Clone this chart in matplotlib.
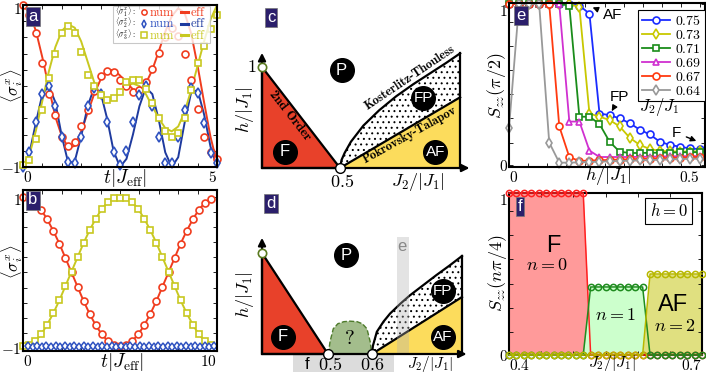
import numpy as np
import matplotlib
matplotlib.use('Agg')
import matplotlib.pyplot as plt
from matplotlib.patches import Rectangle
from matplotlib.transforms import ScaledTranslation

plt.rcParams['mathtext.fontset'] = 'cm'
plt.rcParams['font.family'] = ['DejaVu Sans']
plt.rcParams['hatch.linewidth'] = 0.7

W, H = 706, 374

# ---------------- data ----------------
# panel a: spin dynamics, numerics (markers) and effective model (lines)
t_a = np.arange(31) / 6
s1_num_a = [1.0, 0.88, 0.65, 0.29, -0.10, -0.36, -0.63, -0.74, -0.69, -0.49, -0.30,
            -0.06, 0.12, 0.19, 0.17, 0.08, 0.0, -0.08, -0.05, 0.05, 0.21, 0.41, 0.60,
            0.72, 0.62, 0.40, 0.08, -0.28, -0.63, -0.81, -0.90]
s2_num_a = [-1.0, -0.82, -0.44, -0.10, 0.0, -0.25, -0.63, -0.94, -0.95, -0.63, -0.25,
            -0.02, -0.10, -0.44, -0.81, -0.98, -0.80, -0.44, -0.11, 0.0, -0.25, -0.63,
            -0.95, -0.95, -0.63, -0.30, -0.02, -0.09, -0.46, -0.83, -0.95]
s3_num_a = [-0.98, -0.91, -0.65, -0.30, 0.10, 0.40, 0.66, 0.74, 0.66, 0.42, 0.14,
            0.0, -0.11, -0.17, -0.15, -0.07, 0.05, 0.08, 0.07, -0.04, -0.21, -0.40,
            -0.56, -0.63, -0.58, -0.40, -0.05, 0.29, 0.50, 0.70, 0.88]
s1_eff_a = [1.0, 0.90, 0.68, 0.35, -0.02, -0.38, -0.62, -0.76, -0.74, -0.56, -0.33,
            -0.10, 0.08, 0.19, 0.20, 0.13, 0.04, -0.04, -0.06, 0.03, 0.20, 0.43, 0.67,
            0.86, 0.96, 0.90, 0.65, 0.25, -0.20, -0.63, -0.95]
s2_eff_a = [-1.0, -0.83, -0.45, -0.10, 0.0, -0.20, -0.62, -0.95, -0.93, -0.62, -0.25,
            -0.02, -0.08, -0.40, -0.80, -1.0, -0.90, -0.60, -0.25, -0.02, -0.10, -0.42,
            -0.82, -1.0, -0.88, -0.45, -0.08, -0.05, -0.35, -0.75, -1.0]
s3_eff_a = [-1.0, -0.85, -0.55, -0.18, 0.18, 0.48, 0.68, 0.76, 0.72, 0.55, 0.30,
            0.05, -0.12, -0.17, -0.15, -0.08, 0.0, 0.03, 0.0, -0.10, -0.25, -0.40,
            -0.52, -0.56, -0.50, -0.32, -0.05, 0.25, 0.55, 0.82, 1.0]

# panel b
t_b = np.arange(32) * 0.3125
s1_b = [1.0, 0.98, 0.92, 0.83, 0.70, 0.55, 0.38, 0.19, 0.0, -0.19, -0.38, -0.55,
        -0.70, -0.82, -0.91, -0.96, -0.97, -0.96, -0.91, -0.82, -0.70, -0.55, -0.38,
        -0.19, 0.0, 0.19, 0.38, 0.55, 0.70, 0.83, 0.92, 0.97]
s3_b = [-0.98, -0.96, -0.91, -0.82, -0.69, -0.54, -0.37, -0.18, 0.01, 0.20, 0.39,
        0.56, 0.71, 0.84, 0.93, 0.98, 0.99, 0.98, 0.93, 0.84, 0.71, 0.56, 0.39, 0.20,
        0.01, -0.18, -0.37, -0.54, -0.69, -0.82, -0.91, -0.96]
t2_b = np.arange(41) * 0.24 + 0.25
s2_b = [-0.97, -0.99, -0.97, -0.99, -0.97, -0.99, -0.97, -0.99, -0.97, -0.99, -0.97,
        -0.99, -0.97, -0.99, -0.97, -0.99, -0.97, -0.99, -0.97, -0.99, -0.97, -0.99,
        -0.97, -0.99, -0.97, -0.99, -0.97, -0.99, -0.97, -0.99, -0.97, -0.99, -0.97,
        -0.99, -0.97, -0.99, -0.97, -0.99, -0.97, -0.99, -0.97]

# panel c: schematic phase diagram (J2/|J1|, h/|J1|)
kt_c_x = [0.5, 0.51, 0.53, 0.57, 0.65, 0.75, 0.86, 0.97, 1.08, 1.18, 1.27]
kt_c_h = [0.0, 0.08, 0.15, 0.26, 0.42, 0.57, 0.71, 0.83, 0.94, 1.04, 1.135]
pt_c_x = [0.5, 1.27]
pt_c_h = [0.0, 0.70]

# panel d: schematic, stretched axis (0.6 placed at 0.833)
kt_d_x = [0.833, 0.84, 0.87, 0.92, 0.97, 1.05, 1.12, 1.22, 1.32, 1.42, 1.515]
kt_d_h = [0.0, 0.08, 0.22, 0.32, 0.40, 0.50, 0.58, 0.68, 0.78, 0.875, 0.97]
pt_d_x = [0.833, 1.515]
pt_d_h = [0.0, 0.564]
dome_x = [0.503, 0.515, 0.54, 0.575, 0.62, 0.667, 0.72, 0.76, 0.795, 0.82, 0.831]
dome_h = [0.0, 0.12, 0.25, 0.30, 0.32, 0.325, 0.32, 0.30, 0.25, 0.12, 0.0]

# panel e: S_zz(pi/2) vs h for several J2/J1
h_e = np.arange(20) * 0.5 / 19
j2_e = ['0.75', '0.73', '0.71', '0.69', '0.67', '0.64']
szz_e = [
    [1, 1, 1, 1, 1, 1, 1, 0.99, 0.94, 0.32, 0.31, 0.29, 0.26, 0.22, 0.19, 0.145,
     0.125, 0.114, 0.103, 0.099],
    [1, 1, 1, 1, 1, 1, 1, 0.98, 0.32, 0.30, 0.28, 0.24, 0.17, 0.125, 0.10, 0.088,
     0.085, 0.084, 0.084, 0.085],
    [1, 1, 1, 1, 1, 1, 0.99, 0.30, 0.30, 0.255, 0.145, 0.083, 0.075, 0.075, 0.076,
     0.077, 0.078, 0.079, 0.08, 0.08],
    [1, 1, 1, 1, 1, 1, 0.27, 0.27, 0.09, 0.05, 0.05, 0.05, 0.05, 0.051, 0.052,
     0.053, 0.054, 0.055, 0.055, 0.056],
    [1, 1, 1, 1, 1, 0.24, 0.05, 0.025, 0.028, 0.03, 0.032, 0.034, 0.036, 0.038,
     0.04, 0.042, 0.044, 0.046, 0.048, 0.05],
    [0.23, 1, 1, 1, 0.14, 0.015, 0.015, 0.017, 0.019, 0.021, 0.023, 0.025, 0.027,
     0.029, 0.031, 0.033, 0.035, 0.037, 0.039, 0.04],
]
col_e = ['#1a2cff', '#c8c800', '#1a8c1a', '#d030d0', '#ff3a10', '#999999']
mk_e = ['o', 'd', 's', '^', 'o', 'd']

# panel f: S_zz(n pi/4) at h = 0
j2_f = np.linspace(0.4, 0.7, 27)
n0_f = [1, 1, 1, 1, 1, 1, 1, 1, 1, 1, 1, 0, 0, 0, 0, 0, 0, 0, 0, 0, 0, 0, 0, 0, 0, 0, 0]
n1_f = [0, 0, 0, 0, 0, 0, 0, 0, 0, 0, 0, 0.42, 0.42, 0.42, 0.42, 0.42, 0.42, 0.42,
        0.42, 0, 0, 0, 0, 0, 0, 0, 0]
n2_f = [0, 0, 0, 0, 0, 0, 0, 0, 0, 0, 0, 0, 0, 0, 0, 0, 0, 0, 0, 0.5, 0.5, 0.5,
        0.5, 0.5, 0.5, 0.5, 0.5]

RED, BLUE, BLUE_L, YEL = '#f03c1e', '#2f52c0', '#1e3a9e', '#c8c820'
NAVY = '#2b1f6b'

fig = plt.figure(figsize=(W / 100, H / 100), dpi=100)


def add(x0, y0, x1, y1):
    return fig.add_axes([x0 / W, 1 - y1 / H, (x1 - x0) / W, (y1 - y0) / H])


def ftext(px, py, s, **kw):
    kw.setdefault('ha', 'center')
    kw.setdefault('va', 'center')
    return fig.text(px / W, 1 - py / H, s, **kw)


def tag(px, py, s):
    ftext(px, py, s, color='w', fontsize=12, family='Liberation Sans',
          bbox=dict(boxstyle='square,pad=0.12', fc=NAVY, ec='#777777', lw=0.5))


def ticks(ax, xt, xl, yt, yl, top_shift=0):
    ax.set_xticks(xt)
    ax.set_xticklabels(xl)
    ax.set_yticks(yt)
    ax.set_yticklabels(yl)
    ax.tick_params(direction='in', top=True, right=True, length=3, width=0.6,
                   labelsize=11, pad=2)
    ax.tick_params(axis='y', pad=1)
    xl_ = ax.get_xticklabels()
    xl_[0].set_ha('left')
    xl_[-1].set_ha('right')
    if top_shift:
        lab = ax.get_yticklabels()[-1]
        lab.set_transform(lab.get_transform() +
                          ScaledTranslation(0, -top_shift / 100, fig.dpi_scale_trans))
    for s in ax.spines.values():
        s.set_linewidth(1.5)


def lab_ends(vals, fmt):
    return [fmt(v) if i in (0, len(vals) - 1) else '' for i, v in enumerate(vals)]


# ---------------- panel a ----------------
ax = add(23, 5, 217, 167)
ax.plot(t_a, s1_eff_a, color=RED, lw=1.4)
ax.plot(t_a, s2_eff_a, color=BLUE_L, lw=1.4)
ax.plot(t_a, s3_eff_a, color=YEL, lw=1.4)
ax.plot(t_a, s1_num_a, 'o', mec=RED, mfc='w', ms=5, mew=1.2, clip_on=False)
ax.plot(t_a, s2_num_a, 'd', mec=BLUE, mfc='w', ms=5, mew=1.2, clip_on=False)
ax.plot(t_a, s3_num_a, 's', mec=YEL, mfc='w', ms=4.5, mew=1.2, clip_on=False)
ax.set_xlim(0, 5)
ax.set_ylim(-1, 1)
xt = np.arange(0, 5.01, 0.5)
yt = np.arange(-1, 1.01, 0.2)
ticks(ax, xt, lab_ends(xt, lambda v: '$%d$' % v), yt,
      lab_ends(yt, lambda v: '$%d$' % round(v)), top_shift=3)

# hand-made legend
ax.add_patch(Rectangle((0.464, 0.768), 0.5, 0.226, transform=ax.transAxes, fc='w',
                       ec='#bbbbbb', lw=0.8, alpha=0.8, zorder=5))
rows = [(r'$\langle\sigma_1^x\rangle:$', 'o', RED, RED),
        (r'$\langle\sigma_2^x\rangle:$', 'd', BLUE, BLUE_L),
        (r'$\langle\sigma_3^x\rangle:$', 's', YEL, YEL)]
for (lbl, m, cm, cl), y in zip(rows, [0.956, 0.884, 0.812]):
    ax.text(0.472, y, lbl, transform=ax.transAxes, fontsize=5.6, va='center', zorder=6)
    ax.plot([0.625], [y], m, transform=ax.transAxes, mec=cm, mfc='w', ms=3.8, mew=1.1,
            clip_on=False, zorder=6)
    ax.text(0.65, y, r'$\mathrm{num}$', color=cm, transform=ax.transAxes, fontsize=9,
            va='center', zorder=6)
    ax.plot([0.812, 0.848], [y, y], color=cl, lw=2.2, transform=ax.transAxes, zorder=6)
    ax.text(0.862, y, r'$\mathrm{eff}$', color=cl, transform=ax.transAxes, fontsize=9,
            va='center', zorder=6)

ftext(125, 178, r'$t|J_{\rm eff}|$', fontsize=14)
ftext(12, 86, r'$\langle\sigma_i^x\rangle$', fontsize=12, rotation=90)
tag(33, 16.5, 'a')

# ---------------- panel b ----------------
ax = add(23, 190, 217, 351)
ax.plot(t_b, s1_b, '-o', color=RED, mec=RED, mfc='w', ms=5, mew=1.2, lw=1.4, clip_on=False)
ax.plot(t_b, s3_b, '-s', color=YEL, mec=YEL, mfc='w', ms=4.5, mew=1.2, lw=1.4, clip_on=False)
ax.plot(t2_b, s2_b, '-d', color=BLUE_L, mec=BLUE, mfc='w', ms=4.5, mew=1.1, lw=1.2, clip_on=False)
ax.set_xlim(0, 10)
ax.set_ylim(-1.04, 1.09)
xt = np.arange(0, 10.01, 1)
ticks(ax, xt, lab_ends(xt, lambda v: '$%d$' % v), yt,
      lab_ends(yt, lambda v: '$%d$' % round(v)), top_shift=2)
ftext(122, 362, r'$t|J_{\rm eff}|$', fontsize=14)
ftext(12, 262, r'$\langle\sigma_i^x\rangle$', fontsize=12, rotation=90)
tag(33, 200, 'b')

# ---------------- panels c, d (schematics) ----------------
RED_PD, YEL_PD = '#e8412a', '#fcdc5c'


def bubble(ax, x, y, s, fs=12):
    ax.plot([x], [y], 'o', color='k', ms=17, zorder=8)
    ax.text(x, y, s, color='w', fontsize=fs, family='Liberation Sans', ha='center',
            va='center', zorder=9)


def axes_arrows(ax, xend, yend):
    ax.annotate('', xy=(xend, 0), xytext=(0, 0),
                arrowprops=dict(arrowstyle='-|>', color='k', lw=1.6, mutation_scale=11,
                                shrinkA=0, shrinkB=0), zorder=7)
    ax.annotate('', xy=(0, yend), xytext=(0, 0),
                arrowprops=dict(arrowstyle='-|>', color='k', lw=1.6, mutation_scale=11,
                                shrinkA=0, shrinkB=0), zorder=7)


# c
ax = add(232, 0, 475, 185)
ax.set_xlim(-0.1923, 1.3654)
ax.set_ylim(-0.1683, 1.6634)
ax.axis('off')
ax.fill([0, 0, 0.5], [0, 1, 0], fc=RED_PD, ec='k', lw=1.6, zorder=3)
ax.fill(kt_c_x + pt_c_x[::-1], kt_c_h + pt_c_h[::-1], fc='w', ec='k', lw=0, hatch='...',
        zorder=2)
ax.fill([pt_c_x[0], pt_c_x[1], pt_c_x[1]], [0, 0, pt_c_h[1]], fc=YEL_PD, ec='none', zorder=3)
ax.plot(kt_c_x, kt_c_h, color='k', lw=1.6, zorder=4)
ax.plot(pt_c_x, pt_c_h, color='k', lw=1.6, zorder=4)
ax.plot([kt_c_x[-1], kt_c_x[-1]], [0, kt_c_h[-1]], color='k', lw=1.6, zorder=4)
axes_arrows(ax, 1.33, 1.14)
ax.plot([0], [1], 'o', mfc='w', mec='#5a7a20', ms=6, mew=1.2, zorder=9, clip_on=False)
ax.plot([0.5], [0], 'o', mfc='w', mec='k', ms=7, mew=1.0, zorder=9, clip_on=False)
ax.text(0.175, 0.52, '2nd Order', rotation=-52, family='cmb10', fontsize=9.5,
        ha='center', va='center', zorder=6, rotation_mode='anchor')
ax.text(0.95, 0.895, 'Kosterlitz-Thouless', rotation=34, family='cmb10', fontsize=9,
        ha='center', va='center', zorder=6, rotation_mode='anchor')
ax.text(0.95, 0.33, 'Pokrovsky-Talapov', rotation=29, family='cmb10', fontsize=9,
        ha='center', va='center', zorder=6, rotation_mode='anchor')
bubble(ax, 0.51, 0.97, 'P')
bubble(ax, 0.147, 0.16, 'F')
bubble(ax, 1.034, 0.69, 'FP', 11)
bubble(ax, 1.11, 0.16, 'AF', 11)
ax.text(-0.066, 1.0, '$1$', fontsize=13, ha='center', va='center')
ax.text(-0.11, 0.574, r'$h/|J_1|$', fontsize=13, rotation=90, ha='center', va='center')
ax.text(0.511, -0.136, '$0.5$', fontsize=13, ha='center', va='center')
ax.text(1.0, -0.136, r'$J_2/|J_1|$', fontsize=13, ha='center', va='center')
tag(271, 17.5, 'c')

# d
ax = add(232, 185, 475, 374)
ax.set_xlim(-0.2273, 1.6136)
ax.set_ylim(-0.198, 1.673)
ax.axis('off')
ax.add_patch(Rectangle((0.235, -0.178), 0.765, 0.178, fc='#dcdcdc', ec='none', zorder=1))
ax.fill([0, 0, 0.5], [0, 1, 0], fc=RED_PD, ec='k', lw=1.6, zorder=3)
ax.fill(dome_x, dome_h, fc='#a3bd8c', ec='#4d7a2a', ls='--', lw=1.0, zorder=3)
ax.fill(kt_d_x + pt_d_x[::-1], kt_d_h + pt_d_h[::-1], fc='w', ec='k', lw=0, hatch='...',
        zorder=2)
ax.fill([pt_d_x[0], pt_d_x[1], pt_d_x[1]], [0, 0, pt_d_h[1]], fc=YEL_PD, ec='none', zorder=3)
ax.plot(kt_d_x, kt_d_h, color='k', lw=1.6, zorder=4)
ax.plot(pt_d_x, pt_d_h, color='k', lw=1.6, zorder=4)
ax.plot([kt_d_x[-1], kt_d_x[-1]], [0, kt_d_h[-1]], color='k', lw=1.6, zorder=4)
ax.add_patch(Rectangle((1.023, 0), 0.091, 1.16, fc='#b0b0b0', ec='none', alpha=0.35, zorder=5))
axes_arrows(ax, 1.55, 1.15)
ax.plot([0], [1], 'o', mfc='w', mec='#5a7a20', ms=6, mew=1.2, zorder=9, clip_on=False)
ax.plot([0.5, 0.833], [0, 0], 'o', mfc='w', mec='k', ms=7, mew=1.0, zorder=9, clip_on=False)
ax.text(0.667, 0.15, '?', family='cmr10', fontsize=15, ha='center', va='center', zorder=6)
bubble(ax, 0.64, 0.98, 'P')
bubble(ax, 0.16, 0.17, 'F')
bubble(ax, 1.37, 0.62, 'FP', 11)
bubble(ax, 1.37, 0.17, 'AF', 11)
ax.text(-0.13, 0.584, r'$h/|J_1|$', fontsize=13, rotation=90, ha='center', va='center')
ax.text(0.339, -0.105, 'f', fontsize=12, family='Liberation Sans', ha='center', va='center')
ax.text(0.515, -0.105, '$0.5$', fontsize=13, ha='center', va='center')
ax.text(0.831, -0.105, '$0.6$', fontsize=13, ha='center', va='center')
ax.text(1.273, -0.1, r'$J_2/|J_1|$', fontsize=11, ha='center', va='center')
ax.text(1.058, 1.062, 'e', fontsize=12, color='#888888', family='Liberation Sans',
        ha='center', va='center', zorder=6)
tag(271, 203.5, 'd')

# ---------------- panel e ----------------
ax = add(509, 3, 705, 167)
for vals, c, m, lbl in zip(szz_e, col_e, mk_e, j2_e):
    ax.plot(h_e, vals, '-' + m, color=c, mec=c, mfc='w', ms=5, mew=1.2, lw=1.3,
            label='$%s$' % lbl, clip_on=False)
ax.set_xlim(0, 0.513)
ax.set_ylim(-0.012, 1.006)
xt = np.arange(0, 0.51, 0.05)
yt_e = [0, 0.14, 0.29, 0.44, 0.59, 0.74, 0.89, 1.0]
ticks(ax, xt, lab_ends(xt, lambda v: '$%g$' % round(v, 2)), yt_e,
      ['$0$', '', '', '', '', '', '', '$1$'], top_shift=6)
ax.legend(loc='upper right', bbox_to_anchor=(1.0, 0.957), borderaxespad=0, fontsize=10,
          fancybox=False, edgecolor='k', framealpha=1, labelspacing=0.0, borderpad=0.25,
          handlelength=2.0, handletextpad=0.4).get_frame().set_linewidth(0.8)
arr = dict(arrowstyle='-|>', color='k', lw=1.0, mutation_scale=8)
ax.annotate('AF', xy=(0.212, 0.985), xytext=(0.27, 0.93), fontsize=11,
            family='Liberation Sans', ha='center', va='center', arrowprops=arr)
ax.annotate('FP', xy=(0.269, 0.335), xytext=(0.29, 0.42), fontsize=11,
            family='Liberation Sans', ha='center', va='center', arrowprops=arr)
ax.annotate('F', xy=(0.497, 0.143), xytext=(0.438, 0.2), fontsize=11,
            family='Liberation Sans', ha='center', va='center', arrowprops=arr)
ax.text(0.394, 0.36, r'$J_2/J_1$', fontsize=12, ha='center', va='center', zorder=10)
ftext(608, 176, r'$h/|J_1|$', fontsize=13)
ftext(496, 86, r'$S_{zz}(\pi/2)$', fontsize=13, rotation=90)
tag(521, 15, 'e')

# ---------------- panel f ----------------
ax = add(509, 193, 702, 355)
ax.fill_between(j2_f, 0, n0_f, color='#ff9a9a', lw=0, zorder=1)
ax.fill_between(j2_f, 0, n1_f, color='#ccffcc', lw=0, zorder=1)
ax.fill_between(j2_f, 0, n2_f, color='#e0e080', lw=0, zorder=1)
ax.plot(j2_f, n0_f, '-o', color='#ff2020', mec='#ff2020', mfc='none', ms=4.5, mew=1.1,
        lw=1.1, clip_on=False, zorder=3)
ax.plot(j2_f, n1_f, '-o', color='#1e8c1e', mec='#1e8c1e', mfc='none', ms=4.5, mew=1.1,
        lw=1.1, clip_on=False, zorder=3)
ax.plot(j2_f, n2_f, '-o', color='#b8b800', mec='#b8b800', mfc='none', ms=4.5, mew=1.1,
        lw=1.1, clip_on=False, zorder=3)
ax.set_xlim(0.4, 0.7)
ax.set_ylim(0, 1)
xt = np.arange(0.4, 0.701, 0.05)
ticks(ax, xt, lab_ends(xt, lambda v: '$%.1f$' % v), yt_e,
      ['$0$', '', '', '', '', '', '', '$1$'], top_shift=6)
ax.text(0.469, 0.67, 'F', fontsize=17, family='Liberation Sans', ha='center', va='center')
ax.text(0.459, 0.556, '$n=0$', fontsize=13, ha='center', va='center')
ax.text(0.565, 0.25, '$n=1$', fontsize=13, ha='center', va='center')
ax.text(0.655, 0.31, 'AF', fontsize=17, family='Liberation Sans', ha='center', va='center')
ax.text(0.658, 0.18, '$n=2$', fontsize=13, ha='center', va='center')
ax.text(0.648, 0.89, '$h=0$', fontsize=12, ha='center', va='center',
        bbox=dict(boxstyle='square,pad=0.25', fc='w', ec='k', lw=0.8))
ftext(612, 363, r'$J_2/|J_1|$', fontsize=11.5)
ftext(497, 273, r'$S_{zz}(n\pi/4)$', fontsize=13, rotation=90)
tag(520, 206.5, 'f')

fig.savefig('out.png', dpi=100)
